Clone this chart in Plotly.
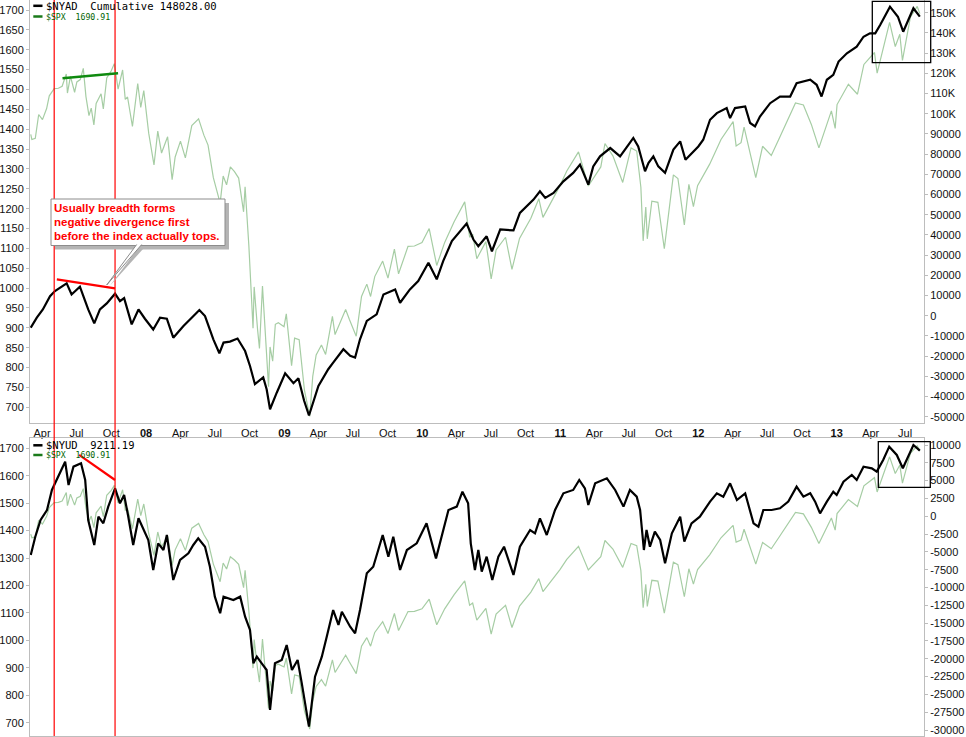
import plotly.graph_objects as go

# ---------------- data ----------------
spx_dates = [
    "2007-03-02", "2007-03-05", "2007-03-14", "2007-03-23", "2007-04-02", "2007-04-13", "2007-04-20",
    "2007-05-03", "2007-05-14", "2007-05-24", "2007-06-04", "2007-06-07", "2007-06-15", "2007-06-26",
    "2007-07-02", "2007-07-11", "2007-07-19", "2007-07-26", "2007-08-03", "2007-08-09", "2007-08-16",
    "2007-08-22", "2007-09-04", "2007-09-10", "2007-09-19", "2007-10-01", "2007-10-09", "2007-10-19",
    "2007-10-31", "2007-11-07", "2007-11-13", "2007-11-26", "2007-12-10", "2007-12-18", "2007-12-26",
    "2008-01-08", "2008-01-22", "2008-02-01", "2008-02-11", "2008-02-27", "2008-03-10", "2008-03-18",
    "2008-04-01", "2008-04-14", "2008-05-01", "2008-05-19", "2008-06-02", "2008-06-13", "2008-06-27",
    "2008-07-15", "2008-07-23", "2008-08-01", "2008-08-11", "2008-08-22", "2008-09-02", "2008-09-15",
    "2008-09-19", "2008-09-29", "2008-10-10", "2008-10-13", "2008-10-22", "2008-10-27", "2008-11-04",
    "2008-11-20", "2008-11-24", "2008-12-01", "2008-12-08", "2008-12-16", "2008-12-31",
    "2009-01-06", "2009-01-20", "2009-01-28", "2009-02-09", "2009-02-23", "2009-03-09", "2009-03-17",
    "2009-03-26", "2009-04-09", "2009-04-20", "2009-05-08", "2009-05-15", "2009-06-12", "2009-06-22",
    "2009-07-10", "2009-07-24", "2009-08-07", "2009-08-17", "2009-08-28", "2009-09-18", "2009-10-02",
    "2009-10-19", "2009-10-30", "2009-11-24", "2009-12-11", "2009-12-31",
    "2010-01-19", "2010-02-08", "2010-03-01", "2010-03-26", "2010-04-23", "2010-05-06", "2010-05-14",
    "2010-05-25", "2010-06-18", "2010-07-02", "2010-07-15", "2010-08-09", "2010-08-26", "2010-09-15",
    "2010-10-15", "2010-11-05", "2010-11-16", "2010-12-31",
    "2011-01-18", "2011-02-18", "2011-03-16", "2011-04-18", "2011-04-29", "2011-05-20", "2011-06-15",
    "2011-07-07", "2011-07-22", "2011-08-02", "2011-08-08", "2011-08-15", "2011-08-19", "2011-08-31",
    "2011-09-16", "2011-10-03", "2011-10-27", "2011-11-08", "2011-11-25", "2011-12-07", "2011-12-19",
    "2011-12-30",
    "2012-01-31", "2012-03-01", "2012-04-02", "2012-04-10", "2012-04-23", "2012-05-01", "2012-06-01",
    "2012-06-19", "2012-07-12", "2012-08-01", "2012-09-14", "2012-10-05", "2012-10-26", "2012-11-15",
    "2012-12-18", "2012-12-28",
    "2013-01-02", "2013-02-01", "2013-02-25", "2013-03-14", "2013-04-11", "2013-04-18", "2013-05-21",
    "2013-06-05", "2013-06-17", "2013-06-24", "2013-07-15", "2013-08-02", "2013-08-09",
]
spx_values = [
    1387, 1374, 1377, 1437, 1424, 1452, 1484,
    1502, 1503, 1508, 1539, 1491, 1533, 1493,
    1519, 1525, 1553, 1482, 1434, 1453, 1411,
    1465, 1489, 1451, 1529, 1547, 1565, 1501,
    1549, 1475, 1481, 1407, 1515, 1455, 1497,
    1390, 1310, 1395, 1340, 1381, 1273, 1330,
    1370, 1328, 1409, 1426, 1385, 1360, 1278,
    1214, 1282, 1260, 1305, 1293, 1277, 1192,
    1255, 1106, 899, 1003, 896, 848, 1005,
    752, 852, 816, 909, 913, 903,
    935, 805, 874, 870, 743, 677, 778,
    832, 857, 833, 929, 883, 946, 921,
    879, 979, 1010, 979, 1029, 1068, 1025,
    1098, 1036, 1105, 1106, 1115,
    1150, 1057, 1115, 1167, 1217, 1128, 1136,
    1074, 1117, 1023, 1096, 1128, 1047, 1125,
    1176, 1225, 1178, 1258,
    1295, 1343, 1257, 1305, 1364, 1333, 1266,
    1353, 1345, 1254, 1119, 1204, 1124, 1219,
    1216, 1099, 1285, 1276, 1159, 1261, 1205,
    1258,
    1312, 1374, 1419, 1358, 1366, 1405, 1278,
    1357, 1334, 1375, 1466, 1461, 1412, 1353,
    1446, 1402,
    1462, 1513, 1488, 1563, 1593, 1541, 1669,
    1608, 1639, 1573, 1682, 1709, 1690.91,
]

nyad_dates = [
    "2007-03-02", "2007-03-18", "2007-04-03", "2007-04-22", "2007-05-05", "2007-06-05", "2007-06-18",
    "2007-07-10", "2007-07-24", "2007-08-01", "2007-08-17", "2007-09-01", "2007-09-19", "2007-10-11",
    "2007-10-24", "2007-11-04", "2007-11-24", "2007-12-12", "2007-12-29",
    "2008-01-20", "2008-02-07", "2008-02-25", "2008-03-13", "2008-04-09", "2008-05-14", "2008-05-21",
    "2008-06-05", "2008-06-27", "2008-07-13", "2008-07-24", "2008-08-10", "2008-08-30", "2008-09-19",
    "2008-10-02", "2008-10-15", "2008-11-06", "2008-11-15", "2008-11-24", "2008-12-12",
    "2009-01-03", "2009-01-25", "2009-02-07", "2009-02-22", "2009-03-07", "2009-04-01", "2009-04-27",
    "2009-05-10", "2009-06-06", "2009-06-24", "2009-07-07", "2009-07-20", "2009-08-07", "2009-09-02",
    "2009-09-20", "2009-10-21", "2009-11-03", "2009-11-29", "2009-12-21",
    "2010-01-17", "2010-02-08", "2010-02-25", "2010-03-20", "2010-04-28", "2010-05-16", "2010-05-29",
    "2010-06-20", "2010-07-04", "2010-07-26", "2010-08-30", "2010-09-16", "2010-10-22", "2010-11-08",
    "2010-11-22", "2010-12-14",
    "2011-01-09", "2011-02-04", "2011-02-22", "2011-03-16", "2011-03-29", "2011-04-16", "2011-05-13",
    "2011-06-08", "2011-06-30", "2011-07-13", "2011-07-26", "2011-08-04", "2011-08-13", "2011-08-22",
    "2011-09-04", "2011-09-17", "2011-10-05", "2011-10-27", "2011-11-14", "2011-11-28", "2011-12-19",
    "2012-01-01", "2012-01-14", "2012-02-01", "2012-02-19", "2012-03-16", "2012-03-25", "2012-04-07",
    "2012-05-04", "2012-05-17", "2012-05-30", "2012-06-12", "2012-07-09", "2012-08-04", "2012-08-31",
    "2012-09-17", "2012-10-23", "2012-11-09", "2012-11-22", "2012-12-06", "2012-12-23",
    "2013-01-06", "2013-01-28", "2013-02-23", "2013-03-13", "2013-03-30", "2013-04-13", "2013-04-26",
    "2013-05-22", "2013-06-12", "2013-06-26", "2013-07-14", "2013-07-23", "2013-08-09",
]
nyad_values = [
    -5900, -1000, 3100, 9700, 12200, 16000, 10500,
    14400, 7200, 3100, -3800, 3100, 6100, 10900,
    7200, 8700, -4300, 3100, -1500,
    -6800, -1000, -1500, -10900, -5100, 1500, 2800,
    -200, -11700, -18600, -13300, -12800, -11300, -17500,
    -24900, -33900, -30600, -36400, -46300, -38000,
    -28500, -33400, -31000, -42000, -49400, -34800, -26500,
    -23200, -16600, -19900, -20700, -11700, -2600, 700,
    10500, 13000, 6400, 13000, 17200,
    26200, 18000, 27000, 36900, 45600, 37700, 34400,
    39300, 31900, 42700, 42200, 50900, 57500, 61600,
    58300, 60800,
    66500, 70700, 74800, 64900, 73900, 78900, 83000,
    78900, 84600, 88000, 83800, 77200, 71500, 75600,
    78900, 73900, 70700, 82200, 86300, 77200, 81300,
    83800, 87100, 97000, 100300, 102800, 97800, 102800,
    103600, 95400, 93700, 98600, 105200, 108500, 108500,
    115100, 116800, 114300, 108500, 116800, 119200,
    125800, 129900, 133200, 138100, 139800, 139800, 143900,
    153000, 148000, 140600, 148900, 152200, 148028,
]

nyud_dates = [
    "2007-03-02", "2007-03-14", "2007-03-28", "2007-04-14", "2007-04-27", "2007-05-10", "2007-06-01",
    "2007-06-10", "2007-06-23", "2007-07-13", "2007-07-24", "2007-08-01", "2007-08-17", "2007-08-28",
    "2007-09-10", "2007-09-23", "2007-10-11", "2007-10-24", "2007-11-04", "2007-11-15", "2007-11-28",
    "2007-12-12", "2007-12-25",
    "2008-01-07", "2008-01-20", "2008-02-02", "2008-02-16", "2008-02-25", "2008-03-13", "2008-03-31",
    "2008-04-22", "2008-05-05", "2008-05-18", "2008-06-05", "2008-06-18", "2008-07-01", "2008-07-15",
    "2008-07-24", "2008-08-19", "2008-09-06", "2008-09-19", "2008-10-02", "2008-10-11", "2008-10-20",
    "2008-11-02", "2008-11-15", "2008-11-24", "2008-12-07", "2008-12-25",
    "2009-01-07", "2009-01-21", "2009-02-05", "2009-02-16", "2009-03-07", "2009-03-23", "2009-04-10",
    "2009-04-23", "2009-05-10", "2009-05-24", "2009-06-02", "2009-06-24", "2009-07-07", "2009-07-20",
    "2009-08-07", "2009-08-24", "2009-09-18", "2009-10-03", "2009-10-16", "2009-11-03", "2009-11-21",
    "2009-12-17",
    "2010-01-12", "2010-02-06", "2010-02-21", "2010-03-11", "2010-04-02", "2010-04-17", "2010-05-02",
    "2010-05-09", "2010-05-20", "2010-05-29", "2010-06-07", "2010-06-20", "2010-07-05", "2010-07-21",
    "2010-08-05", "2010-08-16", "2010-08-30", "2010-09-16", "2010-10-13", "2010-10-26", "2010-11-08",
    "2010-11-26", "2010-12-18",
    "2011-01-09", "2011-02-04", "2011-02-20", "2011-03-07", "2011-03-16", "2011-04-03", "2011-05-04",
    "2011-05-26", "2011-06-17", "2011-07-04", "2011-07-22", "2011-07-31", "2011-08-10", "2011-08-17",
    "2011-08-26", "2011-09-08", "2011-09-22", "2011-10-05", "2011-10-23", "2011-11-14", "2011-11-25",
    "2011-12-14",
    "2012-01-05", "2012-02-01", "2012-02-19", "2012-03-07", "2012-03-25", "2012-04-12", "2012-05-04",
    "2012-05-26", "2012-06-08", "2012-06-21", "2012-07-13", "2012-08-04", "2012-08-26", "2012-09-17",
    "2012-10-05", "2012-10-23", "2012-11-05", "2012-11-18", "2012-12-06", "2012-12-23",
    "2013-01-01", "2013-01-19", "2013-02-10", "2013-02-23", "2013-03-13", "2013-04-04", "2013-04-17",
    "2013-05-04", "2013-05-20", "2013-06-09", "2013-06-25", "2013-07-10", "2013-07-23", "2013-08-09",
]
nyud_values = [
    -5440, -2870, -530, 880, 3690, 5090, 7660,
    4390, 6960, 7430, 5090, -530, -4030, -60,
    -990, 1350, 3920, 1810, 2980, -60, -4030,
    -290, -1930,
    -3330, -7540, -3800, -4740, -2630, -8950, -6140,
    -5200, -4030, -3100, -4270, -7080, -11290, -13620,
    -11290, -11750, -11290, -14090, -15960, -20640, -19710,
    -20640, -21580, -27190, -20640, -20170,
    -18070, -21580, -20170, -23450, -29530, -22510, -19710,
    -16900, -13160, -15260, -13390, -15500, -16430, -13160,
    -8010, -7080, -2630, -5670, -2870, -7540, -4740,
    -3800,
    -990, -5910, -2870, 880, 1350, 3450, 1810,
    -3800, -7540, -4740, -7780, -5670, -8950, -5670,
    -4270, -6140, -8240, -4270, -1930, -2400, -290,
    -2630, 880,
    3220, 3690, 5090, 3920, 1580, 4620, 5320,
    3690, 1350, 3690, 2750, 880, -4740, -1930,
    -4270, -2160, -3330, -6610, -2400, -60, -3570,
    -990,
    -60, 2050, 3220, 2750, 4620, 2280, 3220,
    -990, -1460, 880, 880, 1110, 2050, 4150,
    2750, 3220, 2050, 410, 2050, 3450,
    2980, 4850, 5790, 5090, 6960, 6730, 6260,
    7900, 9770, 8600, 6730, 8600, 10000, 9211.19,
]

x_tick_dates = [
    "2007-04-01", "2007-07-01", "2007-10-01", "2008-01-01", "2008-04-01", "2008-07-01", "2008-10-01",
    "2009-01-01", "2009-04-01", "2009-07-01", "2009-10-01", "2010-01-01", "2010-04-01", "2010-07-01",
    "2010-10-01", "2011-01-01", "2011-04-01", "2011-07-01", "2011-10-01", "2012-01-01", "2012-04-01",
    "2012-07-01", "2012-10-01", "2013-01-01", "2013-04-01", "2013-07-01",
]
x_tick_labels = [
    "Apr", "Jul", "Oct", "08", "Apr", "Jul", "Oct", "09", "Apr", "Jul", "Oct", "10", "Apr", "Jul",
    "Oct", "11", "Apr", "Jul", "Oct", "12", "Apr", "Jul", "Oct", "13", "Apr", "Jul",
]
top_left_ticks = [700, 750, 800, 850, 900, 950, 1000, 1050, 1100, 1150, 1200, 1250, 1300, 1350,
                  1400, 1450, 1500, 1550, 1600, 1650, 1700]
top_right_ticks = [-50000, -40000, -30000, -20000, -10000, 0, 10000, 20000, 30000, 40000, 50000,
                   60000, 70000, 80000, 90000, 100000, 110000, 120000, 130000, 140000, 150000]
bottom_left_ticks = [700, 800, 900, 1000, 1100, 1200, 1300, 1400, 1500, 1600, 1700]
bottom_right_ticks = [-30000, -27500, -25000, -22500, -20000, -17500, -15000, -12500, -10000, -7500,
                      -5000, -2500, 0, 2500, 5000, 7500, 10000]

legend_top = ["$NYAD  Cumulative 148028.00", "$SPX  1690.91"]
legend_bottom = ["$NYUD  9211.19", "$SPX  1690.91"]
callout_lines = ["Usually breadth forms", "negative divergence first", "before the index actually tops."]

# annotation lines drawn on the chart (date, value pairs)
marker_dates = ["2007-05-03", "2007-10-11"]
green_trend = (["2007-05-25", "2007-10-19"], [1528, 1541])
red_trend_top = (["2007-05-10", "2007-10-11"], [1022, 999.5])
red_trend_bottom = (["2007-07-08", "2007-10-11"], [1676, 1584.5])

# ---------------- layout geometry ----------------
W, H = 966, 737
ML, MR, MT, MB = 30, 42, 0, 1
PW = W - ML - MR
PH = H - MT - MB


def fx(px):
    return (px - ML) / PW


def fy(py):
    return 1 - (py - MT) / PH


GREEN = "rgb(166,205,164)"
AX = "#bdbdbd"
TXT = "#111111"
FONT = "Liberation Sans, Arial, sans-serif"
MONO = "DejaVu Sans Mono, monospace"
X_RANGE = ["2007-02-28", "2013-08-20"]

fig = go.Figure()
fig.add_trace(go.Scatter(x=spx_dates, y=spx_values, xaxis="x", yaxis="y", mode="lines",
                         line=dict(color=GREEN, width=1.2), showlegend=False, hoverinfo="skip"))
fig.add_trace(go.Scatter(x=nyad_dates, y=nyad_values, xaxis="x", yaxis="y2", mode="lines",
                         line=dict(color="black", width=2.2), showlegend=False, hoverinfo="skip"))
fig.add_trace(go.Scatter(x=spx_dates, y=spx_values, xaxis="x2", yaxis="y3", mode="lines",
                         line=dict(color=GREEN, width=1.2), showlegend=False, hoverinfo="skip"))
fig.add_trace(go.Scatter(x=nyud_dates, y=nyud_values, xaxis="x2", yaxis="y4", mode="lines",
                         line=dict(color="black", width=2.2), showlegend=False, hoverinfo="skip"))

ticktext_x = [("<b>%s</b>" % t) if t.isdigit() else t for t in x_tick_labels]
top_right_text = [("%dK" % (v // 1000)) if v >= 100000 else str(v) for v in top_right_ticks]
bottom_right_text = [str(v) for v in bottom_right_ticks]

yfont = dict(family=FONT, size=11, color=TXT)
common_y = dict(showgrid=False, zeroline=False, showline=True, linecolor=AX, linewidth=1,
                ticks="outside", ticklen=3, tickcolor=AX, tickfont=yfont)

fig.update_layout(
    width=W, height=H,
    margin=dict(l=ML, r=MR, t=MT, b=MB, pad=0),
    paper_bgcolor="white", plot_bgcolor="white",
    showlegend=False, hovermode=False,
    xaxis=dict(domain=[0, 1], anchor="y", type="date", range=X_RANGE,
               tickvals=x_tick_dates, ticktext=ticktext_x, ticks="",
               tickfont=dict(family=FONT, size=11, color=TXT),
               showgrid=False, zeroline=False, showline=True, linecolor=AX, linewidth=1),
    yaxis=dict(domain=[fy(422.7), 1], anchor="x", range=[661.2, 1725.2],
               tickvals=top_left_ticks, **common_y),
    yaxis2=dict(overlaying="y", side="right", anchor="x", range=[-52970, 156287],
                tickvals=top_right_ticks, ticktext=top_right_text, **common_y),
    xaxis2=dict(domain=[0, 1], anchor="y3", type="date", range=X_RANGE,
                showticklabels=False, ticks="", showgrid=False, zeroline=False,
                showline=True, mirror=True, linecolor=AX, linewidth=1),
    yaxis3=dict(domain=[0, fy(437.5)], anchor="x2", range=[651.5, 1739.4],
                tickvals=bottom_left_ticks, **common_y),
    yaxis4=dict(overlaying="y3", side="right", anchor="x2", range=[-30842, 11053],
                tickvals=bottom_right_ticks, ticktext=bottom_right_text, **common_y),
)

shapes = []
# vertical red marker lines through both panels
for d in marker_dates:
    shapes.append(dict(type="line", xref="x", yref="paper", x0=d, x1=d, y0=0, y1=1,
                       line=dict(color="#ff0000", width=1.2)))
# trend lines
shapes.append(dict(type="line", xref="x", yref="y", x0=green_trend[0][0], x1=green_trend[0][1],
                   y0=green_trend[1][0], y1=green_trend[1][1], line=dict(color="#0f8a0f", width=2.5)))
shapes.append(dict(type="line", xref="x", yref="y", x0=red_trend_top[0][0], x1=red_trend_top[0][1],
                   y0=red_trend_top[1][0], y1=red_trend_top[1][1], line=dict(color="#ff0000", width=2.2)))
shapes.append(dict(type="line", xref="x2", yref="y3", x0=red_trend_bottom[0][0], x1=red_trend_bottom[0][1],
                   y0=red_trend_bottom[1][0], y1=red_trend_bottom[1][1], line=dict(color="#ff0000", width=2.2)))


def path(points):
    return "M " + " L ".join("%.5f,%.5f" % (fx(a), fy(b)) for a, b in points)


# callout box: shadow, pointer shadow, box, pointer
bx0, bx1, by0, by1 = 51, 225, 199, 245.5
shapes.append(dict(type="rect", xref="paper", yref="paper", x0=fx(bx0 + 4), x1=fx(bx1 + 4),
                   y0=fy(by1 + 4), y1=fy(by0 + 4), fillcolor="#b4b4b4", line=dict(width=0)))
shapes.append(dict(type="path", xref="paper", yref="paper",
                   path=path([(139.7, 246), (109.7, 286), (145.7, 246)]) + " Z",
                   fillcolor="#b4b4b4", line=dict(width=0)))
shapes.append(dict(type="rect", xref="paper", yref="paper", x0=fx(bx0), x1=fx(bx1),
                   y0=fy(by1), y1=fy(by0), fillcolor="white", line=dict(color="#8c8c8c", width=1)))
shapes.append(dict(type="path", xref="paper", yref="paper",
                   path=path([(136.7, 244.5), (106.7, 285), (141.7, 244.5)]),
                   fillcolor="white", line=dict(color="#8c8c8c", width=1)))
# black boxes at the top right of each panel
shapes.append(dict(type="rect", xref="paper", yref="paper", x0=fx(872.3), x1=fx(930.7),
                   y0=fy(62.7), y1=fy(1.3), line=dict(color="black", width=1.3)))
shapes.append(dict(type="rect", xref="paper", yref="paper", x0=fx(878.3), x1=fx(930.3),
                   y0=fy(487.3), y1=fy(441.7), line=dict(color="black", width=1.3)))
# legend swatches
for yy, col in [(5.8, "black"), (16.5, "#1a7a1a"), (445.3, "black"), (455, "#1a7a1a")]:
    shapes.append(dict(type="line", xref="paper", yref="paper", x0=fx(33.3), x1=fx(42.5),
                       y0=fy(yy), y1=fy(yy), line=dict(color=col, width=2.5)))

annotations = []
legend_specs = [
    (legend_top[0], 5.8, 10.5, "black"),
    (legend_top[1], 16.8, 8.2, "#006400"),
    (legend_bottom[0], 445.3, 10.5, "black"),
    (legend_bottom[1], 455.3, 8.2, "#006400"),
]
for text, yy, size, col in legend_specs:
    annotations.append(dict(xref="paper", yref="paper", x=fx(44), y=fy(yy), xanchor="left",
                            yanchor="middle", text=text, showarrow=False,
                            font=dict(family=MONO, size=size, color=col)))
for i, line in enumerate(callout_lines):
    annotations.append(dict(xref="paper", yref="paper", x=fx(51.5), y=fy(208.3 + 13.9 * i),
                            xanchor="left", yanchor="middle", text="<b>%s</b>" % line,
                            showarrow=False, font=dict(family=FONT, size=11.5, color="#ff0000")))

fig.update_layout(shapes=shapes, annotations=annotations)
fig.write_html("out.html", config={"displayModeBar": False},
               post_script="document.body.style.margin='0';document.body.style.overflow='hidden';")
